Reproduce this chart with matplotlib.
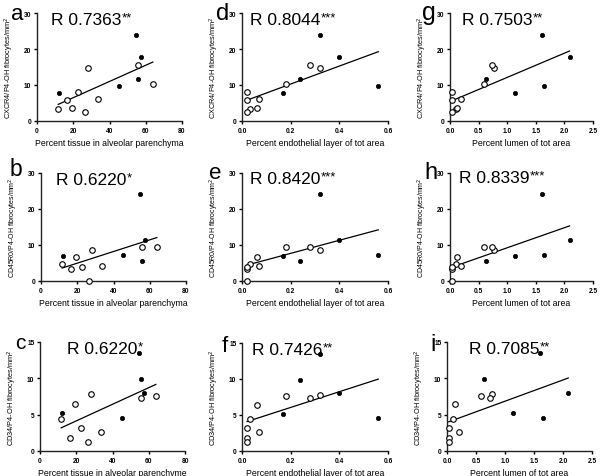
import numpy as np
import matplotlib
matplotlib.use("Agg")
import matplotlib.pyplot as plt

plt.rcParams['font.family'] = ['Liberation Sans', 'DejaVu Sans']

# ---- data (filled = one group, open = other group) ----
tissue_f = [12.1, 45.5, 54.7, 55.9, 57.5]
endo_f = [0.17, 0.56, 0.32, 0.24, 0.40]
lumen_f = [1.13, 1.65, 1.61, 0.63, 2.09]
cxcr4_f = [7.8, 9.6, 23.9, 11.6, 17.9]
cd45_f = [6.85, 7.3, 24.2, 5.6, 11.3]
cd34_f = [5.2, 4.6, 13.5, 9.9, 8.0]

tissue_o = [11.7, 16.8, 19.5, 22.5, 26.3, 27.9, 33.5, 55.8, 63.9]
endo_o = [0.032, 0.021, 0.06, 0.021, 0.021, 0.32, 0.07, 0.28, 0.18]
lumen_o = [0.11, 0.03, 0.13, 0.04, 0.04, 0.77, 0.20, 0.74, 0.59]
cxcr4_o = [3.3, 5.9, 3.7, 8.1, 2.6, 14.8, 6.1, 15.6, 10.2]
cd45_o = [4.8, 3.2, 6.6, 3.9, 0.0, 8.7, 4.1, 9.5, 9.5]
cd34_o = [4.4, 1.75, 6.4, 3.2, 1.3, 7.8, 2.6, 7.3, 7.6]

letters = ['a', 'd', 'g', 'b', 'e', 'h', 'c', 'f', 'i']
r_values = ['0.7363', '0.8044', '0.7503', '0.6220', '0.8420', '0.8339', '0.6220', '0.7426', '0.7085']
r_stars = ['**', '***', '**', '*', '***', '***', '*', '**', '**']
ylabels = ['CXCR4/P4-OH fibrocytes/mm$^2$', 'CD45R0/P4-OH fibrocytes/mm$^2$', 'CD34/P4-OH fibrocytes/mm$^2$']
ylabel_sizes = [5.3, 5.0, 5.3]
xlabels = ['Percent tissue in alveolar parenchyma', 'Percent endothelial layer of tot area',
           'Percent lumen of tot area']
xlabel_c = 'Percent tissue in alveolar parenchyme'
xticks_cols = [[0, 20, 40, 60, 80], [0.0, 0.2, 0.4, 0.6], [0.0, 0.5, 1.0, 1.5, 2.0, 2.5]]
xticklabels_cols = [['0', '20', '40', '60', '80'], ['0.0', '0.2', '0.4', '0.6'],
                    ['0.0', '0.5', '1.0', '1.5', '2.0', '2.5']]
yticks_rows = [[0, 10, 20, 30], [0, 10, 20, 30], [0, 5, 10, 15]]

W, H = 600, 477
fig = plt.figure(figsize=(W / 100, H / 100), dpi=100)

# axes boxes in pixels: left, top, right, bottom
boxes = [[(37, 14, 182, 122), (242, 14, 388, 122), (450, 14, 593, 122)],
         [(41, 174, 186, 282), (242, 174, 388, 282), (450, 174, 593, 282)],
         [(40, 343, 185, 452), (242, 344, 388, 452), (447, 343, 592, 452)]]
letter_pos = [[(11, 20, 16), (216, 20, 17), (422, 20, 18)],
              [(10, 176, 16.5), (209, 179, 16), (424, 179, 17)],
              [(15, 349, 15), (222, 352, 16), (430, 351, 17)]]
r_pos = [[(51, 13), (250, 13), (462, 13)],
         [(56, 173), (250, 172), (459, 171)],
         [(67, 342), (252, 343), (469, 342)]]

xs_f = [tissue_f, endo_f, lumen_f]
xs_o = [tissue_o, endo_o, lumen_o]
ys_f = [cxcr4_f, cd45_f, cd34_f]
ys_o = [cxcr4_o, cd45_o, cd34_o]

for r in range(3):
    for c in range(3):
        l, t, rr, b = boxes[r][c]
        ax = fig.add_axes([l / W, 1 - b / H, (rr - l) / W, (b - t) / H])
        xf, xo = np.array(xs_f[c]), np.array(xs_o[c])
        yf, yo = np.array(ys_f[r]), np.array(ys_o[r])
        xall = np.concatenate([xf, xo])
        yall = np.concatenate([yf, yo])
        k, m = np.polyfit(xall, yall, 1)
        xl = np.array([xall.min(), xall.max()])
        ax.plot(xl, k * xl + m, color='black', lw=0.9, zorder=2)
        ax.plot(xo, yo, 'o', ms=4.0, mfc='white', mec='black', mew=0.8, zorder=3, clip_on=False)
        ax.plot(xf, yf, 'o', ms=3.1, mfc='black', mec='black', mew=0.5, zorder=3, clip_on=False)
        xt = xticks_cols[c]
        ax.set_xlim(xt[0], xt[-1])
        ax.set_xticks(xt)
        ax.set_xticklabels(xticklabels_cols[c])
        yt = yticks_rows[r]
        ax.set_ylim(yt[0], yt[-1])
        ax.set_yticks(yt)
        for s in ['top', 'right']:
            ax.spines[s].set_visible(False)
        for s in ['left', 'bottom']:
            ax.spines[s].set_linewidth(1.0)
            ax.spines[s].set_color('#222222')
        ax.tick_params(direction='out', length=2.5, width=1.0, pad=1.5, labelsize=4.8)
        for lab in ax.get_xticklabels() + ax.get_yticklabels():
            lab.set_fontweight('bold')
        xlab = xlabel_c if (r == 2 and c == 0) else xlabels[c]
        ax.set_xlabel(xlab, fontsize=6.3, labelpad=3)
        ax.set_ylabel(ylabels[r], fontsize=ylabel_sizes[r], labelpad=6)
        # panel letter
        lx, ly, lfs = letter_pos[r][c]
        fig.text(lx / W, 1 - ly / H, letters[r * 3 + c], fontsize=lfs, ha='left', va='baseline')
        # R annotation
        rx, ry = r_pos[r][c]
        idx = r * 3 + c
        tt = fig.text(rx / W, 1 - ry / H, 'R ' + r_values[idx], fontsize=12.5, ha='left', va='top')
        ax.annotate(r_stars[idx], xy=(1, 1), xycoords=tt, xytext=(0.3, 0.5), textcoords='offset points',
                    fontsize=9.5, ha='left', va='top')

fig.savefig('out.png', dpi=100)
